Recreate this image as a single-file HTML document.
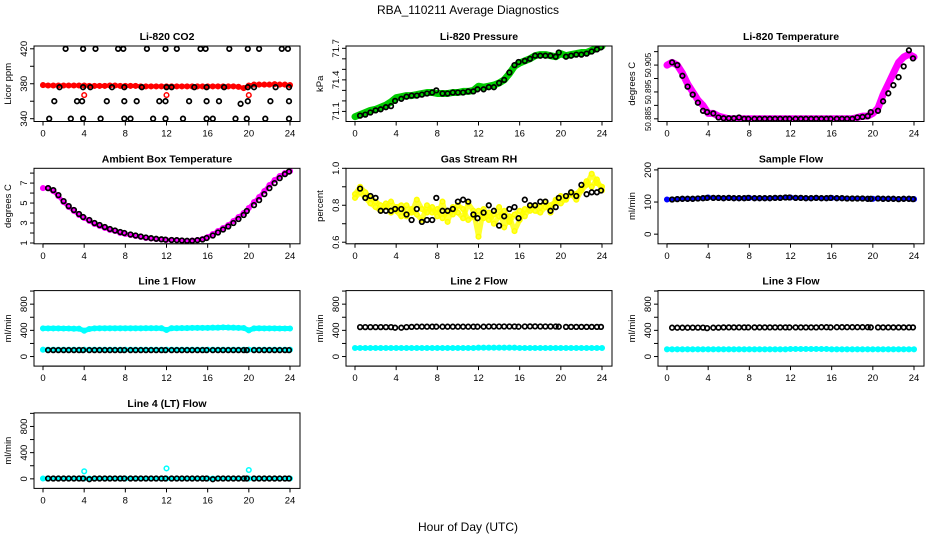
<!DOCTYPE html>
<html><head><meta charset="utf-8"><style>
html,body{margin:0;padding:0;background:#fff}
svg{display:block;font-family:"Liberation Sans",sans-serif}
</style></head><body>
<svg id="chart" width="936" height="540" viewBox="0 0 936 540">
<text x="468" y="14" text-anchor="middle" font-size="12">RBA_110211  Average Diagnostics</text>
<text x="468" y="531" text-anchor="middle" font-size="12">Hour of Day (UTC)</text>
</svg>
<script>
const xTicks=[0,4,8,12,16,20,24];
const hoursC=[0,0.5,1,1.5,2,2.5,3,3.5,4,4.5,5,5.5,6,6.5,7,7.5,8,8.5,9,9.5,10,10.5,11,11.5,12,12.5,13,13.5,14,14.5,15,15.5,16,16.5,17,17.5,18,18.5,19,19.5,20,20.5,21,21.5,22,22.5,23,23.5,24];
const hoursB=[0.5,1,1.5,2,2.5,3,3.5,3.9,4.5,5,5.5,6,6.5,7,7.5,7.9,8.5,9,9.5,10,10.5,11,11.5,11.9,12.5,13,13.5,14,14.5,15,15.5,15.9,16.5,17,17.5,18,18.5,19,19.5,19.8,20.5,21,21.5,22,22.5,23,23.5,23.9];
const co2Red=[378.5,378,378,378,378,378,378,378,378,377.5,377.5,377.5,377.5,378,378,377.5,377.5,377.5,377.5,377,377,377,377,377,377,377,377,377,377,377,377,377,377,377,377,377,377,377,376.5,375,378,379,379,379,379,379.5,379,379,378.5];
const co2OutHours=[4,12,20];
const co2Out=[367,367,367];
const co2BlackHours=[0.6,1.1,1.6,2.2,2.7,3.3,3.8,3.9,3.9,3.9,4.6,5.1,5.6,6.2,6.7,7.3,7.8,7.9,7.9,7.9,8.5,9.1,9.6,10.1,10.7,11.3,11.9,11.9,11.9,12,12.5,13,13.6,14.2,14.7,15.3,15.8,15.9,15.9,15.9,16.5,17.1,17.6,18.1,18.7,19.2,19.8,19.9,19.9,19.9,20.5,21,21.6,22.1,22.6,23.2,23.8,23.9,23.9,23.9];
const co2Black=[340,360,376,420,340,360,360,376,340,420,376,420,340,360,376,420,420,376,360,340,340,360,376,420,340,360,360,340,420,376,376,420,340,360,376,420,420,376,360,340,340,360,376,420,340,357,340,360,376,420,376,420,340,360,376,420,420,376,360,340];
const presGreen=[71.05,71.07,71.09,71.11,71.12,71.14,71.16,71.19,71.23,71.24,71.25,71.25,71.26,71.27,71.28,71.28,71.27,71.27,71.27,71.28,71.28,71.29,71.29,71.30,71.34,71.33,71.34,71.35,71.37,71.40,71.46,71.53,71.56,71.58,71.60,71.63,71.64,71.64,71.63,71.62,71.65,71.63,71.64,71.65,71.66,71.66,71.68,71.70,71.72];
const presBlack=[71.06,71.07,71.09,71.11,71.12,71.14,71.15,71.2,71.22,71.24,71.25,71.25,71.26,71.27,71.28,71.3,71.27,71.27,71.28,71.28,71.28,71.29,71.29,71.31,71.31,71.33,71.33,71.37,71.40,71.47,71.54,71.57,71.58,71.60,71.63,71.63,71.63,71.63,71.62,71.66,71.62,71.63,71.64,71.64,71.65,71.67,71.69,71.71];
const tempMag=[50.905,50.906,50.905,50.902,50.898,50.895,50.892,50.890,50.887,50.887,50.886,50.8855,50.885,50.885,50.885,50.885,50.885,50.885,50.885,50.885,50.885,50.885,50.885,50.885,50.885,50.885,50.885,50.885,50.885,50.885,50.885,50.885,50.885,50.885,50.885,50.885,50.885,50.8855,50.886,50.886,50.887,50.889,50.894,50.898,50.902,50.906,50.908,50.909,50.908];
const tempBlack=[50.906,50.905,50.901,50.897,50.894,50.891,50.888,50.8875,50.887,50.8855,50.8852,50.8852,50.8852,50.8855,50.885,50.885,50.885,50.885,50.885,50.885,50.885,50.885,50.885,50.885,50.885,50.885,50.885,50.885,50.885,50.885,50.885,50.885,50.885,50.885,50.885,50.885,50.8855,50.8857,50.886,50.8875,50.888,50.8915,50.8945,50.8975,50.9005,50.9045,50.9105,50.9075];
const ambMag=[6.5,6.5,6.2,5.7,5.1,4.6,4.2,3.8,3.5,3.2,2.9,2.7,2.5,2.3,2.2,2.0,1.9,1.8,1.7,1.6,1.5,1.45,1.4,1.35,1.3,1.3,1.3,1.25,1.2,1.25,1.3,1.4,1.6,1.9,2.2,2.5,2.8,3.2,3.6,4.0,4.5,5.1,5.6,6.2,6.8,7.3,7.7,8.0,8.2];
const ambBlack=[6.5,6.3,5.8,5.2,4.7,4.3,3.9,3.6,3.3,3.0,2.8,2.6,2.4,2.25,2.1,2.0,1.85,1.75,1.65,1.55,1.48,1.42,1.37,1.33,1.3,1.28,1.25,1.22,1.22,1.28,1.35,1.5,1.75,2.05,2.35,2.65,3.0,3.4,3.8,4.2,4.8,5.3,5.9,6.5,7.0,7.5,7.9,8.15];
const rhYellowA=[0.86,0.9,0.87,0.84,0.82,0.8,0.79,0.82,0.77,0.74,0.8,0.76,0.83,0.78,0.76,0.79,0.74,0.82,0.71,0.79,0.76,0.73,0.81,0.77,0.63,0.78,0.72,0.75,0.79,0.68,0.74,0.66,0.72,0.78,0.77,0.8,0.79,0.82,0.76,0.83,0.81,0.84,0.86,0.83,0.88,0.91,0.97,0.92,0.9];
const rhYellowB=[0.84,0.87,0.84,0.81,0.79,0.77,0.81,0.76,0.79,0.8,0.74,0.78,0.75,0.72,0.8,0.76,0.78,0.73,0.77,0.75,0.8,0.78,0.72,0.74,0.77,0.73,0.76,0.7,0.74,0.77,0.71,0.75,0.77,0.74,0.79,0.77,0.76,0.79,0.8,0.82,0.85,0.83,0.87,0.86,0.89,0.93,0.9,0.94,0.88];
const rhBlack=[0.89,0.84,0.85,0.84,0.77,0.77,0.77,0.78,0.78,0.75,0.72,0.78,0.71,0.72,0.72,0.84,0.77,0.77,0.78,0.82,0.83,0.82,0.75,0.73,0.76,0.80,0.77,0.69,0.74,0.78,0.79,0.73,0.83,0.80,0.80,0.82,0.82,0.77,0.79,0.84,0.85,0.87,0.85,0.91,0.86,0.87,0.87,0.88];
const sfBlue=[108,108,109,110,110,110,111,112,114,113,113,112,113,112,112,112,113,112,112,112,112,113,113,114,114,113,113,112,112,113,112,112,113,112,112,111,111,111,111,110,110,111,110,110,110,109,110,110,109];
const sfBlack=[108,109,110,110,110,111,112,113,113,113,112,113,112,112,112,113,112,112,112,112,113,113,114,114,113,113,112,112,113,112,112,113,112,112,111,111,111,111,110,110,111,110,110,110,109,110,110,109];
const l1CyanHi=[430,430,430,430,428,428,425,425,395,420,430,432,432,432,432,432,432,432,432,432,433,433,433,433,405,433,433,435,435,437,437,438,438,440,440,445,442,440,438,436,400,430,432,430,430,430,428,428,428];
const l1CyanLo=[105,105,105,105,105,105,105,105,105,105,105,105,105,105,105,105,105,105,105,105,105,105,105,105,105,105,105,105,105,105,105,105,105,105,105,105,105,105,105,105,105,105,105,105,105,105,105,105,105];
const l1Black=[98,98,98,98,98,98,98,98,98,98,98,98,98,98,98,98,98,98,98,98,98,98,98,98,98,98,98,98,98,98,98,98,98,98,98,98,98,98,98,98,98,98,98,98,98,98,98,98];
const l2Cyan=[130,130,130,130,130,130,130,130,130,130,130,130,130,130,130,130,130,130,130,130,130,130,130,130,135,135,135,135,135,135,135,135,130,130,130,130,130,130,130,130,130,130,130,130,130,130,130,130,130];
const l2Black=[450,450,450,450,450,450,450,440,440,450,452,455,455,455,455,455,455,455,455,455,455,455,455,455,455,458,458,458,458,458,458,455,458,460,460,458,458,458,458,455,452,452,452,452,452,452,452,452];
const l3Cyan=[110,110,110,110,110,110,110,110,110,110,110,110,110,110,110,110,110,110,110,110,110,110,110,110,115,115,115,115,115,115,115,115,110,110,110,110,110,110,110,110,110,110,110,110,110,110,110,110,110];
const l3Black=[440,440,440,440,442,442,442,435,440,442,445,445,445,445,445,445,445,445,445,445,445,445,445,445,445,445,445,445,445,448,448,445,448,448,448,448,448,448,448,445,445,445,445,445,445,445,445,445];
const l4Cyan=[5,5,5,5,5,5,5,5,5,5,5,5,5,5,5,5,5,5,5,5,5,5,5,5,5,5,5,5,5,5,5,5,5,5,5,5,5,5,5,5,5,5,5,5,5,5,5,5,5];
const l4OutHours=[4,12,20];
const l4Out=[115,160,135];
const l4Black=[5,5,5,5,5,5,5,5,-5,5,5,5,5,5,5,5,5,5,5,5,5,5,5,5,5,5,5,5,5,5,5,5,-5,5,5,5,5,5,5,5,5,5,5,5,5,5,5,5];

const NS="http://www.w3.org/2000/svg";
const svg=document.getElementById('chart');
function mk(tag,attrs,parent){const e=document.createElementNS(NS,tag);for(const k in attrs)e.setAttribute(k,attrs[k]);(parent||svg).appendChild(e);return e;}

const panels=[
 {key:'co2',c:0,r:0,title:'Li-820 CO2',ylab:'Licor ppm',ylim:[336.8,423.2],ticks:[340,360,380,400,420],labels:[340,380,420],
  series:[{x:hoursC,y:co2Red,col:'#ff0000',band:4},{x:co2OutHours,y:co2Out,col:'#ff0000'},{x:co2BlackHours,y:co2Black,col:'#000'}]},
 {key:'pressure',c:1,r:0,title:'Li-820 Pressure',ylab:'kPa',ylim:[71.004,71.722],ticks:[71.1,71.2,71.3,71.4,71.5,71.6,71.7],labels:[71.1,71.4,71.7],
  series:[{x:hoursC,y:presGreen,col:'#00cc00',band:7},{x:hoursB,y:presBlack,col:'#000'}]},
 {key:'li820-temp',c:2,r:0,title:'Li-820 Temperature',ylab:'degrees C',ylim:[50.884,50.9121],ticks:[50.885,50.89,50.895,50.9,50.905,50.91],labels:['50.885','50.895','50.905'],fs:8,
  series:[{x:hoursC,y:tempMag,col:'#ff00ff',band:7},{x:hoursB,y:tempBlack,col:'#000'}]},
 {key:'ambient-temp',c:0,r:1,title:'Ambient Box Temperature',ylab:'degrees C',ylim:[0.92,8.48],ticks:[1,2,3,4,5,6,7,8],labels:[1,3,5,7],
  series:[{x:hoursC,y:ambMag,col:'#ff00ff',band:4},{x:hoursB,y:ambBlack,col:'#000'}]},
 {key:'gas-rh',c:1,r:1,title:'Gas Stream RH',ylab:'percent',ylim:[0.5914,1.0],ticks:[0.6,0.7,0.8,0.9,1.0],labels:['0.6','0.8','1.0'],
  series:[{x:hoursC,y:rhYellowA,col:'#ffff00',band:5,op:0.8},{x:hoursC,y:rhYellowB,col:'#ffff00',band:5,op:0.8},{x:hoursB,y:rhBlack,col:'#000'}]},
 {key:'sample-flow',c:2,r:1,title:'Sample Flow',ylab:'ml/min',ylim:[-30,205],ticks:[0,100,200],labels:[0,100,200],
  series:[{x:hoursC,y:sfBlue,col:'#0000ff',band:4},{x:hoursB,y:sfBlack,col:'#000'}]},
 {key:'line1-flow',c:0,r:2,title:'Line 1 Flow',ylab:'ml/min',ylim:[-146,1007],ticks:[0,200,400,600,800,1000],labels:[0,400,800],
  series:[{x:hoursC,y:l1CyanHi,col:'#00ffff',band:5},{x:hoursC,y:l1CyanLo,col:'#00ffff',band:4},{x:hoursB,y:l1Black,col:'#000'}]},
 {key:'line2-flow',c:1,r:2,title:'Line 2 Flow',ylab:'ml/min',ylim:[-146,1007],ticks:[0,200,400,600,800,1000],labels:[0,400,800],
  series:[{x:hoursC,y:l2Cyan,col:'#00ffff',band:4},{x:hoursB,y:l2Black,col:'#000'}]},
 {key:'line3-flow',c:2,r:2,title:'Line 3 Flow',ylab:'ml/min',ylim:[-146,1007],ticks:[0,200,400,600,800,1000],labels:[0,400,800],
  series:[{x:hoursC,y:l3Cyan,col:'#00ffff',band:4},{x:hoursB,y:l3Black,col:'#000'}]},
 {key:'line4-flow',c:0,r:3,title:'Line 4 (LT) Flow',ylab:'ml/min',ylim:[-146,1007],ticks:[0,200,400,600,800,1000],labels:[0,400,800],
  series:[{x:hoursC,y:l4Cyan,col:'#00ffff',band:4},{x:l4OutHours,y:l4Out,col:'#00ffff'},{x:hoursB,y:l4Black,col:'#000'}]}
];

panels.forEach(p=>{
  const L=312*p.c+34, R=312*p.c+300, T=46+122.3*p.r, B=T+75.5;
  const xs=h=>312*p.c+43+h*(247/24);
  const ys=v=>B-(v-p.ylim[0])/(p.ylim[1]-p.ylim[0])*(B-T);
  const g=mk('g',{});
  
  
  const clip=mk('clipPath',{id:'clip-'+p.key},g);
  mk('rect',{x:L,y:T,width:R-L,height:B-T},clip);
  const plot=mk('g',{'clip-path':'url(#clip-'+p.key+')'},g);
  p.series.forEach((s,si)=>{
    const sg=mk('g',{},plot);
    
    
    if(s.band){
      const pts=s.x.map((h,i)=>xs(h).toFixed(1)+','+ys(s.y[i]).toFixed(1)).join(' ');
      const pl=mk('polyline',{points:pts,fill:'none',stroke:s.col,'stroke-width':s.band,'stroke-linejoin':'round','stroke-linecap':'round','stroke-opacity':s.op||1},sg);
      
      
    }
    const black=s.col==='#000';
    s.x.forEach((h,i)=>{
      const c=mk('circle',{cx:xs(h).toFixed(1),cy:ys(s.y[i]).toFixed(1),r:2.3,fill:'none',stroke:s.col,'stroke-width':black?1.7:1.5},sg);
      
      
    });
  });
  const box=mk('rect',{x:L,y:T,width:R-L,height:B-T,fill:'none',stroke:'#000','stroke-width':1},g);
  
  
  const t=mk('text',{x:(L+R)/2,y:T-6,'text-anchor':'middle','font-size':10.5,'font-weight':'bold'},g);
  t.textContent=p.title;
  
  
  mk('line',{x1:xs(0),x2:xs(24),y1:B,y2:B,stroke:'#000'},g);
  xTicks.forEach(v=>{
    mk('line',{x1:xs(v),x2:xs(v),y1:B,y2:B+4,stroke:'#000'},g);
    const tl=mk('text',{x:xs(v),y:B+15,'text-anchor':'middle','font-size':9.5},g);
    tl.textContent=v;
    
    
  });
  mk('line',{x1:L,x2:L,y1:ys(p.ticks[0]),y2:ys(p.ticks[p.ticks.length-1]),stroke:'#000'},g);
  p.ticks.forEach(v=>mk('line',{x1:L-4,x2:L,y1:ys(v),y2:ys(v),stroke:'#000'},g));
  const fs=p.fs||9.5;
  p.labels.forEach(v=>{
    const y=ys(+v);
    const tl=mk('text',{x:L-7,y:y,'text-anchor':'middle','font-size':fs,transform:'rotate(-90 '+(L-7)+' '+y+')'},g);
    tl.textContent=v;
    
    
  });
  const yl=mk('text',{x:L-23,y:(T+B)/2,'text-anchor':'middle','font-size':9.5,transform:'rotate(-90 '+(L-23)+' '+(T+B)/2+')'},g);
  yl.textContent=p.ylab;
  
  
});
</script>
</body></html>
